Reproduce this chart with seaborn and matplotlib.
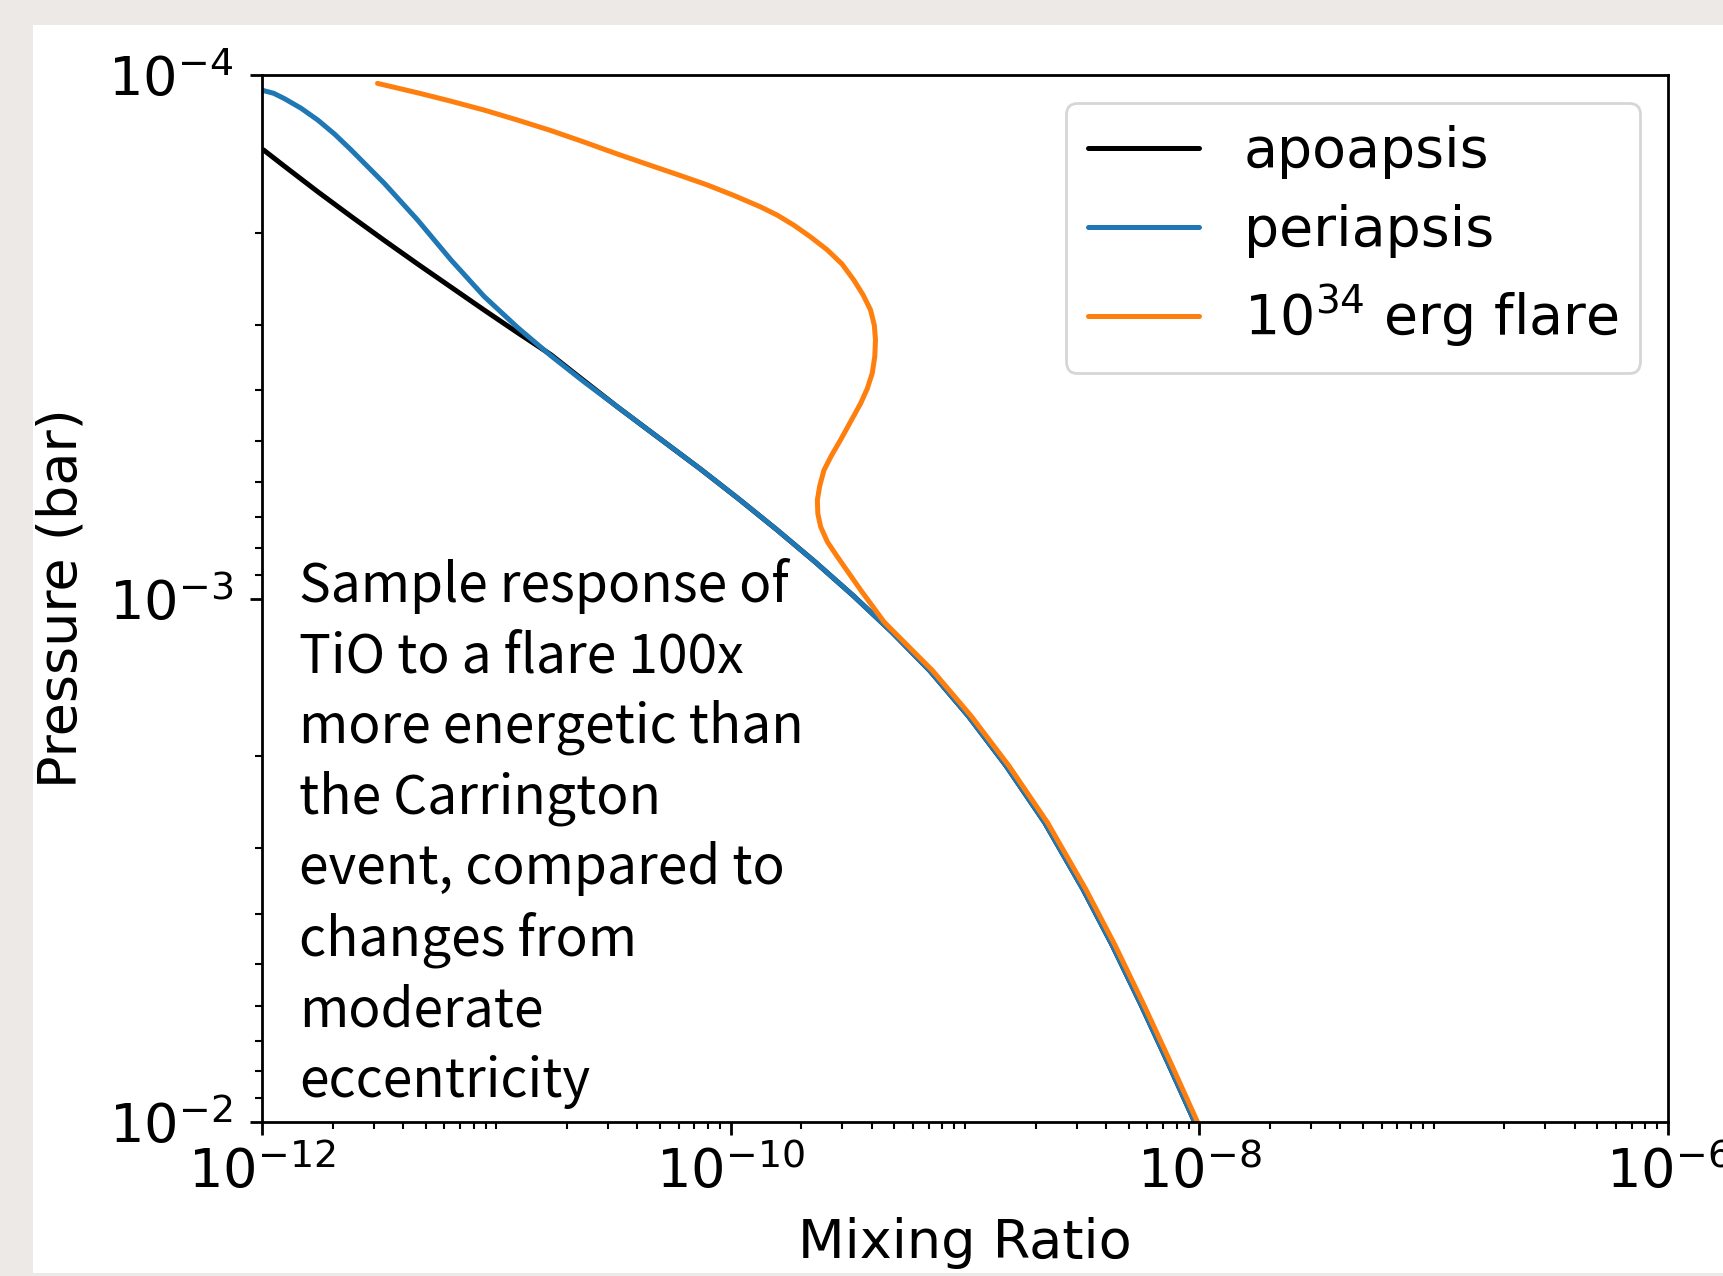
import matplotlib
matplotlib.use("Agg")
import matplotlib.pyplot as plt
import numpy as np
import pandas as pd
import seaborn as sns
from matplotlib.patches import Rectangle
from matplotlib.ticker import FixedLocator, LogLocator, NullFormatter

# ---------------- data (as log10 values) ----------------
apo_log_mixing = [-11.994, -11.905, -11.762, -11.62, -11.478, -11.336, -11.194, -11.052,
                  -10.91, -10.768, -10.626, -10.483, -10.34, -10.128, -9.965, -9.802,
                  -9.64, -9.476, -9.31, -9.15, -8.985, -8.824, -8.66, -8.497, -8.372,
                  -8.25, -8.133, -8.02]
apo_log_pressure = [-3.857, -3.826, -3.777, -3.730, -3.684, -3.639, -3.595, -3.551,
                    -3.508, -3.466, -3.416, -3.366, -3.318, -3.247, -3.190, -3.131,
                    -3.070, -3.005, -2.935, -2.862, -2.775, -2.680, -2.572, -2.445, -2.338,
                    -2.225, -2.112, -2.0]

peri_log_mixing = [-12.0, -11.95, -11.905, -11.835, -11.762, -11.69, -11.62, -11.478,
                   -11.336, -11.194, -11.052, -10.91, -10.768, -10.626, -10.483, -10.34,
                   -10.128, -9.965, -9.802, -9.64, -9.476, -9.31, -9.15, -8.985, -8.824,
                   -8.66, -8.497, -8.372, -8.25, -8.133, -8.02]
peri_log_pressure = [-3.971, -3.965, -3.955, -3.937, -3.914, -3.887, -3.857, -3.793,
                     -3.723, -3.647, -3.577, -3.518, -3.464, -3.414, -3.366, -3.318,
                     -3.247, -3.190, -3.131, -3.070, -3.005, -2.935, -2.862, -2.775,
                     -2.680, -2.572, -2.445, -2.338, -2.225, -2.112, -2.0]

flare_log_mixing = [-11.507, -11.336, -11.194, -11.052, -10.91, -10.768, -10.626, -10.483,
                    -10.34, -10.215, -10.10, -9.987, -9.872, -9.80, -9.73, -9.66, -9.588,
                    -9.525, -9.474, -9.435, -9.403, -9.387, -9.382, -9.385, -9.396, -9.417,
                    -9.445, -9.488, -9.531, -9.570, -9.602, -9.620, -9.630, -9.628, -9.616,
                    -9.587, -9.545, -9.495, -9.445, -9.345, -9.138, -8.973, -8.812, -8.648,
                    -8.485, -8.36, -8.238, -8.121, -8.008]
flare_log_pressure = [-3.984, -3.966, -3.950, -3.933, -3.914, -3.894, -3.872, -3.849,
                      -3.827, -3.808, -3.790, -3.770, -3.748, -3.732, -3.713, -3.691, -3.666,
                      -3.639, -3.608, -3.580, -3.551, -3.522, -3.494, -3.462, -3.430, -3.401,
                      -3.373, -3.338, -3.303, -3.273, -3.245, -3.215, -3.188, -3.162, -3.137,
                      -3.108, -3.080, -3.048, -3.016, -2.955, -2.862, -2.775, -2.680, -2.572,
                      -2.445, -2.338, -2.225, -2.112, -2.0]

series_labels = ["apoapsis", "periapsis", r"$10^{34}$ erg flare"]
series_colors = ["#000000", "#1f77b4", "#ff7f0e"]
x_major_ticks = [1e-12, 1e-10, 1e-8, 1e-6]
y_major_ticks = [1e-4, 1e-3, 1e-2]
x_label = "Mixing Ratio"
y_label = "Pressure (bar)"
annotation = ("Sample response of\nTiO to a flare 100x\nmore energetic than\n"
              "the Carrington\nevent, compared to\nchanges from\nmoderate\neccentricity")

# ---------------- style ----------------
sns.set_theme(style="ticks")
plt.rcParams.update({
    "axes.edgecolor": "black",
    "axes.labelcolor": "black",
    "xtick.color": "black",
    "ytick.color": "black",
    "text.color": "black",
    "axes.linewidth": 2.0,
    "mathtext.fontset": "dejavusans",
})
plt.rcParams["font.family"] = ["DejaVu Sans"]

W, H = 1724, 1276
fig = plt.figure(figsize=(W / 100, H / 100), dpi=100, facecolor="white")
ax_l, ax_r, ax_t, ax_b = 262, 1668, 75, 1122
ax = fig.add_axes([ax_l / W, 1 - ax_b / H, (ax_r - ax_l) / W, (ax_b - ax_t) / H])
ax.set_facecolor("white")
ax.set_xscale("log")
ax.set_yscale("log")

frames = []
for lab, xs, ys in zip(series_labels,
                       [apo_log_mixing, peri_log_mixing, flare_log_mixing],
                       [apo_log_pressure, peri_log_pressure, flare_log_pressure]):
    frames.append(pd.DataFrame({"mixing": np.power(10.0, xs),
                                "pressure": np.power(10.0, ys),
                                "series": lab}))
df = pd.concat(frames, ignore_index=True)

for lab, col in zip(series_labels, series_colors):
    sub = df[df["series"] == lab]
    sns.lineplot(data=sub, x="mixing", y="pressure", sort=False, estimator=None,
                 color=col, linewidth=3.6, ax=ax, label=lab)

ax.set_xlim(1e-12, 1e-6)
ax.set_ylim(1e-2, 1e-4)
ax.xaxis.set_major_locator(FixedLocator(x_major_ticks))
ax.xaxis.set_minor_locator(LogLocator(base=10, subs=[1, 2, 3, 4, 5, 6, 7, 8, 9], numticks=100))
ax.xaxis.set_minor_formatter(NullFormatter())
ax.yaxis.set_major_locator(FixedLocator(y_major_ticks))
ax.yaxis.set_minor_locator(LogLocator(base=10, subs=[2, 3, 4, 5, 6, 7, 8, 9], numticks=100))
ax.yaxis.set_minor_formatter(NullFormatter())

ax.tick_params(which="major", length=9, width=2.0, direction="out", labelsize=39)
ax.tick_params(axis="x", which="major", pad=8)
ax.tick_params(axis="y", which="major", pad=12)
ax.tick_params(which="minor", length=5, width=1.5, direction="out")
for s in ax.spines.values():
    s.set_visible(True)
    s.set_linewidth(2.0)
    s.set_color("black")

ax.set_xlabel(x_label, fontsize=39, labelpad=13)
ax.set_ylabel(y_label, fontsize=39, labelpad=14.5)

leg = ax.legend(loc="upper right", fontsize=40, frameon=True, fancybox=True,
                framealpha=0.8, edgecolor="0.8", borderaxespad=0.5, labelspacing=0.45)
leg.get_frame().set_linewidth(2.0)

ax.text((299 - ax_l) / (ax_r - ax_l), (ax_b - 1097) / (ax_b - ax_t), annotation,
        transform=ax.transAxes, fontsize=38.4, ha="left", va="baseline",
        linespacing=1.355, family=["Noto Sans CJK SC", "DejaVu Sans"])

# slide background strips around the white panel
beige = "#EDE9E6"
fig.patches.append(Rectangle((0, 1 - 25 / H), 1, 25 / H, transform=fig.transFigure,
                             facecolor=beige, edgecolor="none", zorder=20))
fig.patches.append(Rectangle((0, 0), 33 / W, 1, transform=fig.transFigure,
                             facecolor=beige, edgecolor="none", zorder=20))
fig.patches.append(Rectangle((0, 0), 1, 3 / H, transform=fig.transFigure,
                             facecolor=beige, edgecolor="none", zorder=20))

fig.savefig("out.png", dpi=100, facecolor="white")
